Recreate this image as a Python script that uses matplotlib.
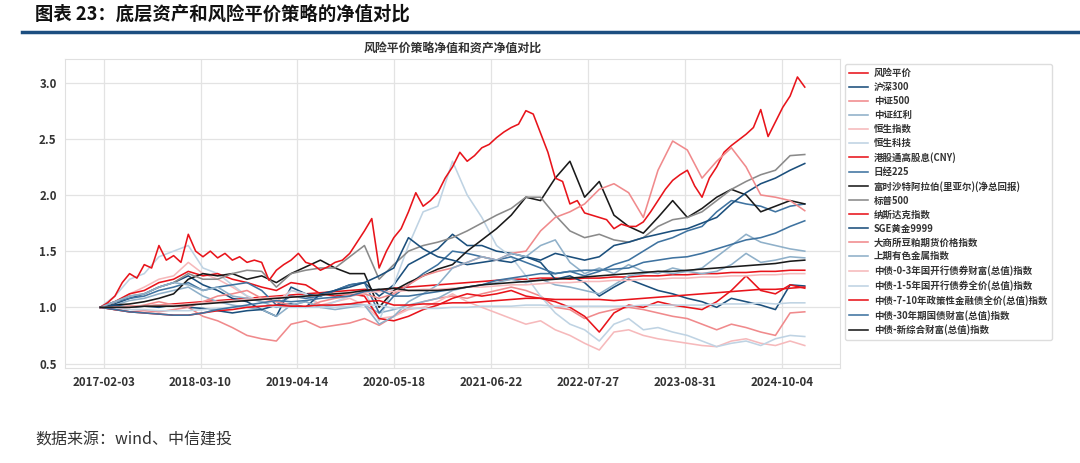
import matplotlib
matplotlib.use('Agg')
import matplotlib.pyplot as plt
import numpy as np
import pandas as pd

plt.rcParams['font.family'] = ['Noto Sans CJK SC', 'DejaVu Sans']

# bi-monthly samples, 2017-01 .. 2025-01
dates = pd.date_range('2017-01-20', '2025-01-06', periods=49)
# monthly samples for the most jagged line
dates_m = pd.date_range('2017-01-20', '2025-01-06', periods=97)

rp = [1.00,1.00,1.01,1.01,1.02,1.03,1.04,1.05,1.06,1.07,1.08,1.09,1.10,1.11,1.12,1.13,1.14,1.15,1.16,1.15,1.17,1.18,1.19,1.20,1.21,1.22,1.23,1.24,1.25,1.25,1.26,1.26,1.25,1.26,1.26,1.27,1.27,1.28,1.28,1.29,1.29,1.30,1.30,1.31,1.31,1.32,1.32,1.33,1.33]
csi300 = [1.00,1.03,1.08,1.12,1.18,1.22,1.28,1.20,1.15,1.08,1.05,0.98,0.92,1.18,1.12,1.10,1.15,1.20,1.22,1.10,1.20,1.38,1.45,1.52,1.65,1.55,1.55,1.50,1.48,1.45,1.40,1.25,1.28,1.22,1.10,1.18,1.25,1.20,1.15,1.12,1.08,1.05,1.00,1.08,1.05,1.02,0.98,1.20,1.19]
csi500 = [1.00,0.98,0.96,0.97,0.96,0.98,1.00,0.92,0.88,0.82,0.75,0.72,0.70,0.85,0.88,0.82,0.84,0.86,0.90,0.84,0.92,1.00,1.05,1.08,1.10,1.08,1.12,1.15,1.18,1.15,1.10,1.00,0.98,0.90,0.95,0.98,1.00,0.98,0.95,0.92,0.90,0.85,0.80,0.85,0.82,0.78,0.75,0.95,0.96]
csi_div = [1.00,1.02,1.06,1.08,1.12,1.15,1.18,1.10,1.05,1.02,1.00,0.98,0.92,1.02,1.05,1.00,1.02,1.03,1.02,0.95,0.98,1.02,1.05,1.08,1.15,1.18,1.20,1.22,1.25,1.22,1.25,1.20,1.18,1.15,1.12,1.20,1.28,1.30,1.32,1.30,1.32,1.35,1.45,1.55,1.65,1.58,1.55,1.52,1.50]
hsi = [1.00,1.05,1.12,1.18,1.25,1.28,1.40,1.30,1.25,1.18,1.10,1.05,1.05,1.15,1.12,1.02,1.05,1.08,1.02,0.90,0.92,0.98,1.00,1.05,1.12,1.05,1.00,0.95,0.90,0.85,0.88,0.80,0.75,0.68,0.62,0.78,0.80,0.75,0.72,0.70,0.68,0.66,0.65,0.70,0.72,0.68,0.66,0.70,0.66]
hstech = [1.00,1.10,1.25,1.30,1.45,1.50,1.55,1.35,1.30,1.20,1.10,1.05,1.00,1.15,1.12,1.00,1.05,1.10,1.15,0.88,1.20,1.55,1.85,1.90,2.30,2.00,1.80,1.55,1.45,1.28,1.10,0.95,0.85,0.80,0.70,0.85,0.90,0.80,0.82,0.78,0.75,0.70,0.65,0.68,0.70,0.66,0.72,0.75,0.74]
hk_div = [1.00,1.05,1.12,1.15,1.22,1.25,1.32,1.28,1.30,1.25,1.22,1.18,1.15,1.22,1.20,1.12,1.10,1.12,1.10,0.90,0.88,0.92,0.98,1.02,1.08,1.12,1.10,1.12,1.15,1.10,1.08,1.05,1.00,0.92,0.78,0.95,1.02,1.00,1.05,1.02,1.00,0.98,1.05,1.15,1.28,1.15,1.12,1.20,1.17]
nikkei = [1.00,1.05,1.08,1.10,1.15,1.18,1.22,1.15,1.18,1.20,1.22,1.15,1.02,1.10,1.08,1.10,1.15,1.20,1.22,0.95,1.10,1.20,1.30,1.38,1.50,1.48,1.45,1.42,1.45,1.40,1.35,1.30,1.32,1.28,1.32,1.38,1.42,1.50,1.58,1.62,1.68,1.72,1.85,1.95,1.92,1.90,1.85,1.90,1.92]
saudi = [1.00,1.02,1.03,1.05,1.08,1.12,1.25,1.30,1.28,1.30,1.25,1.28,1.22,1.30,1.36,1.42,1.35,1.30,1.30,1.00,1.15,1.22,1.28,1.34,1.38,1.50,1.60,1.70,1.82,1.98,1.95,2.15,2.30,1.98,2.12,1.82,1.72,1.66,1.80,1.95,1.80,1.88,1.98,2.05,2.00,1.85,1.90,1.95,1.92]
sp500 = [1.00,1.05,1.10,1.12,1.18,1.22,1.30,1.25,1.25,1.30,1.33,1.32,1.18,1.30,1.33,1.35,1.35,1.45,1.55,1.25,1.38,1.50,1.55,1.58,1.62,1.68,1.75,1.82,1.88,1.98,1.98,1.82,1.68,1.62,1.65,1.60,1.58,1.62,1.72,1.78,1.80,1.85,1.95,2.05,2.12,2.18,2.22,2.35,2.36]
nasdaq = [1.00,1.04,1.10,1.22,1.30,1.26,1.38,1.35,1.55,1.42,1.46,1.40,1.65,1.50,1.45,1.50,1.44,1.48,1.42,1.45,
          1.40,1.42,1.40,1.24,1.33,1.38,1.42,1.48,1.40,1.38,1.33,1.36,1.40,1.42,1.48,1.58,1.68,1.79,1.35,1.50,
          1.62,1.70,1.85,2.02,1.90,1.95,2.02,2.15,2.25,2.38,2.30,2.35,2.42,2.45,2.51,2.56,2.60,2.63,2.75,2.72,
          2.55,2.38,2.15,2.12,1.92,1.95,1.84,1.82,1.80,1.78,1.70,1.74,1.72,1.72,1.76,1.85,1.95,2.05,2.13,2.18,
          2.22,2.08,1.98,2.15,2.25,2.38,2.44,2.49,2.54,2.60,2.76,2.52,2.65,2.78,2.88,3.05,2.96]
gold = [1.00,1.02,1.00,1.01,1.00,1.02,1.00,0.99,0.97,0.95,0.97,0.98,1.02,1.03,1.00,1.12,1.15,1.18,1.22,1.28,1.35,1.62,1.52,1.45,1.42,1.38,1.40,1.42,1.40,1.45,1.42,1.48,1.45,1.42,1.45,1.55,1.58,1.62,1.65,1.68,1.70,1.75,1.80,1.92,2.02,2.10,2.15,2.22,2.28]
soymeal = [1.00,0.98,1.00,1.02,1.05,1.02,1.00,1.05,1.10,1.12,1.15,1.08,1.05,1.02,1.00,1.05,1.08,1.10,1.12,1.08,1.12,1.20,1.28,1.32,1.35,1.40,1.45,1.42,1.48,1.50,1.68,1.80,1.85,1.92,2.05,2.10,2.02,1.80,2.22,2.48,2.40,2.15,2.30,2.42,2.25,2.00,1.98,1.95,1.86]
metals = [1.00,1.05,1.10,1.12,1.18,1.22,1.20,1.15,1.18,1.10,1.08,1.05,1.00,1.02,1.05,1.00,0.98,1.00,1.02,0.85,0.92,1.05,1.12,1.20,1.35,1.40,1.45,1.42,1.48,1.45,1.55,1.60,1.40,1.30,1.35,1.30,1.38,1.32,1.30,1.35,1.32,1.30,1.32,1.38,1.48,1.40,1.42,1.45,1.44]
bond0_3 = [1.00,1.00,1.01,1.01,1.02,1.02,1.03,1.04,1.05,1.06,1.07,1.08,1.09,1.09,1.10,1.11,1.12,1.12,1.13,1.14,1.14,1.15,1.16,1.16,1.17,1.18,1.18,1.19,1.20,1.20,1.21,1.22,1.22,1.23,1.23,1.24,1.24,1.25,1.25,1.26,1.26,1.27,1.27,1.28,1.28,1.29,1.29,1.30,1.30]
bond1_5 = [1.00,0.99,0.98,0.98,0.97,0.97,0.97,0.98,0.99,1.00,1.00,1.01,1.01,1.00,1.00,1.00,1.00,1.01,1.02,1.02,0.99,0.99,0.99,0.99,1.00,1.00,1.01,1.01,1.01,1.02,1.02,1.01,1.01,1.01,1.01,1.01,1.01,1.02,1.02,1.02,1.02,1.02,1.03,1.03,1.03,1.04,1.03,1.04,1.04]
bond7_10 = [1.00,0.98,0.96,0.95,0.94,0.93,0.93,0.95,0.97,0.98,1.00,1.01,1.02,1.01,1.01,1.02,1.02,1.03,1.05,1.06,1.02,1.02,1.03,1.03,1.04,1.04,1.05,1.06,1.07,1.08,1.08,1.07,1.07,1.07,1.07,1.06,1.07,1.08,1.09,1.10,1.11,1.12,1.13,1.14,1.15,1.16,1.16,1.17,1.18]
bond30 = [1.00,0.98,0.96,0.95,0.94,0.93,0.93,0.95,0.98,1.00,1.02,1.04,1.06,1.05,1.06,1.08,1.09,1.10,1.14,1.16,1.10,1.10,1.12,1.14,1.16,1.18,1.20,1.24,1.26,1.28,1.30,1.30,1.32,1.33,1.33,1.34,1.35,1.40,1.42,1.44,1.45,1.48,1.52,1.56,1.60,1.62,1.66,1.72,1.77]
newcomp = [1.00,1.00,1.00,1.01,1.01,1.01,1.02,1.03,1.04,1.05,1.06,1.07,1.08,1.09,1.10,1.11,1.12,1.13,1.15,1.16,1.17,1.15,1.15,1.15,1.16,1.18,1.20,1.21,1.22,1.23,1.24,1.25,1.26,1.27,1.28,1.29,1.30,1.31,1.32,1.32,1.33,1.34,1.35,1.36,1.37,1.38,1.39,1.41,1.42]

names = ['风险平价', '沪深300', '中证500', '中证红利', '恒生指数', '恒生科技', '港股通高股息(CNY)',
         '日经225', '富时沙特阿拉伯(里亚尔)(净总回报)', '标普500', '纳斯达克指数', 'SGE黄金9999',
         '大商所豆粕期货价格指数', '上期有色金属指数', '中债-0-3年国开行债券财富(总值)指数',
         '中债-1-5年国开行债券全价(总值)指数', '中债-7-10年政策性金融债全价(总值)指数',
         '中债-30年期国债财富(总值)指数', '中债-新综合财富(总值)指数']
series = [rp, csi300, csi500, csi_div, hsi, hstech, hk_div, nikkei, saudi, sp500, nasdaq, gold,
          soymeal, metals, bond0_3, bond1_5, bond7_10, bond30, newcomp]
palette = ['#e8141b', '#1b4f7c', '#f08a8c', '#8fb0c9', '#f6b9bb', '#bfd3e3', '#e8141b',
           '#3f73a0', '#1a1a1a', '#8a8a8a']

fig = plt.figure(figsize=(10.8, 4.63), dpi=100)
ax = fig.add_axes([65/1080, 1-368/463, (840-65)/1080, (368-59)/463])

for i, (name, vals) in enumerate(zip(names, series)):
    x = dates_m if len(vals) == len(dates_m) else dates
    ax.plot(x, vals, color=palette[i % 10], lw=1.15, label=name)

ax.margins(x=0.05)
ax.set_ylim(0.46, 3.21)
xt = pd.date_range('2017-02-03', periods=8, freq='400D')
ax.set_xticks(xt)
ax.set_xticklabels([d.strftime('%Y-%m-%d') for d in xt])
ax.set_yticks([0.5, 1.0, 1.5, 2.0, 2.5, 3.0])
ax.tick_params(length=0, labelsize=8.3, colors='#333333', pad=6)
for lab in ax.get_xticklabels() + ax.get_yticklabels():
    lab.set_fontweight('bold')
ax.grid(True, color='#e3e3e3', lw=0.9)
ax.set_axisbelow(True)
for s in ax.spines.values():
    s.set_color('#e0e0e0')

ax.set_title('风险平价策略净值和资产净值对比', fontsize=8.6, fontweight='bold', color='#333333', pad=5)

leg = ax.legend(loc='upper left', bbox_to_anchor=(845/1080, 1-64/463), bbox_transform=fig.transFigure,
                borderaxespad=0, fontsize=6.8, handlelength=2.0, handletextpad=0.6, labelspacing=0.42,
                borderpad=0.45, framealpha=1, edgecolor='#dddddd', fancybox=True)
for t in leg.get_texts():
    t.set_fontweight('bold')
    t.set_color('#333333')

fig.text(35/1080, 1-14/463, '图表 23：底层资产和风险平价策略的净值对比', fontsize=13.2, fontweight='bold',
         va='center', ha='left', color='#111111')
fig.add_artist(plt.Line2D([22/1080, 1.0], [1-32/463, 1-32/463], color='#1c4e80', lw=2.5))
fig.text(35/1080, 1-440/463, '数据来源：wind、中信建投', fontsize=11.5, style='italic',
         va='center', ha='left', color='#333333')

fig.savefig('out.png', dpi=100)
